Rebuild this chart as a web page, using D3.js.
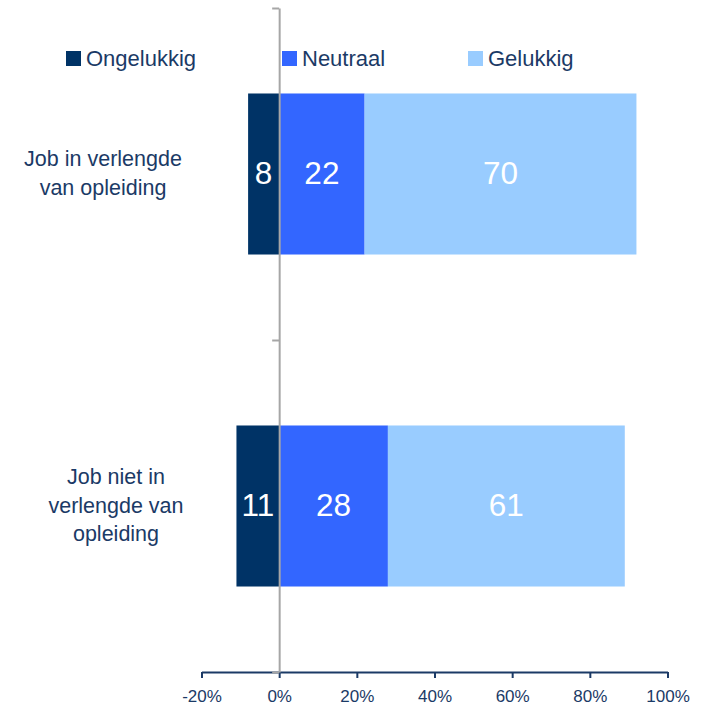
<!DOCTYPE html>
<html>
<head>
<meta charset="utf-8">
<script src="https://cdn.jsdelivr.net/npm/d3@7"></script>
<style>
  body { margin: 0; background: #fff; }
  svg { font-family: "Liberation Sans", Arial, sans-serif; }
</style>
</head>
<body>
<svg width="707" height="710"></svg>
<script>
const categories = [
	['Job in verlengde', 'van opleiding'],
	['Job niet in', 'verlengde van', 'opleiding']
]
const seriesNames = ['Ongelukkig', 'Neutraal', 'Gelukkig']
const ongelukkig = [8, 11]
const neutraal = [22, 28]
const gelukkig = [70, 61]
const xTicks = [-20, 0, 20, 40, 60, 80, 100]

const colors = ['#003366', '#3366ff', '#99ccff']
const textColor = '#1b3a66'

const svg = d3.select('svg')

const x = d3.scaleLinear()
	.domain([-20, 100])
	.range([201.5, 667.5])

const y = d3.scaleBand()
	.domain(d3.range(categories.length))
	.range([8, 672])
	.paddingInner(0.515)
	.paddingOuter(0.2575)

// stacked segments: ongelukkig goes left of zero
const rows = categories.map((c, i) => [
	{ s: 0, x0: -ongelukkig[i], x1: 0, v: ongelukkig[i] },
	{ s: 1, x0: 0, x1: neutraal[i], v: neutraal[i] },
	{ s: 2, x0: neutraal[i], x1: neutraal[i] + gelukkig[i], v: gelukkig[i] },
].map(d => Object.assign(d, { row: i })))

const seg = svg.append('g')
	.selectAll('g')
	.data(rows.flat())
	.enter()
	.append('g')

seg.append('rect')
	.attr('x', d => x(d.x0))
	.attr('width', d => x(d.x1) - x(d.x0))
	.attr('y', d => y(d.row))
	.attr('height', y.bandwidth())
	.attr('fill', d => colors[d.s])

seg.append('text')
	.attr('x', d => x((d.x0 + d.x1) / 2))
	.attr('y', d => y(d.row) + y.bandwidth() / 2 - 1)
	.attr('dy', '0.36em')
	.attr('text-anchor', 'middle')
	.attr('fill', '#fff')
	.attr('font-size', 31.5)
	.text(d => d.v)

// x axis
const xAxis = svg.append('g')
	.attr('transform', 'translate(0,672)')
	.call(d3.axisBottom(x).tickValues(xTicks).tickSize(6).tickSizeOuter(0).tickFormat(d => d + '%'))
xAxis.select('.domain').attr('stroke', textColor).attr('stroke-width', 2)
xAxis.selectAll('.tick line').attr('stroke', textColor).attr('stroke-width', 2)
xAxis.selectAll('.tick text')
	.attr('fill', textColor)
	.attr('font-size', 17)
	.attr('y', 24)
	.attr('dy', '0.35em')

// vertical axis at zero
const yLine = d3.scaleLinear().domain([0, categories.length]).range([8, 672])
const yAxis = svg.append('g')
	.attr('transform', `translate(${x(0)},0)`)
	.call(d3.axisLeft(yLine).ticks(categories.length).tickSize(7).tickSizeOuter(0).tickFormat(''))
yAxis.select('.domain').attr('stroke', '#a6a6a6').attr('stroke-width', 2)
yAxis.selectAll('.tick line').attr('stroke', '#a6a6a6').attr('stroke-width', 2)

// category labels
const labelX = [103, 116]
categories.forEach((lines, i) => {
	const cy = y(i) + y.bandwidth() / 2
	const t = svg.append('text')
		.attr('text-anchor', 'middle')
		.attr('fill', textColor)
		.attr('font-size', 21.5)
	lines.forEach((ln, j) => {
		t.append('tspan')
			.attr('x', labelX[i])
			.attr('y', cy + (j - (lines.length - 1) / 2) * 28.5 - 1)
			.attr('dy', '0.35em')
			.text(ln)
	})
})

// legend
const legendX = [66, 282, 468]
const legend = svg.append('g')
	.selectAll('g')
	.data(seriesNames)
	.enter()
	.append('g')
	.attr('transform', (d, i) => `translate(${legendX[i]},51)`)

legend.append('rect')
	.attr('width', 15)
	.attr('height', 15)
	.attr('fill', (d, i) => colors[i])

legend.append('text')
	.attr('x', 20)
	.attr('y', 7.5)
	.attr('dy', '0.35em')
	.attr('fill', textColor)
	.attr('font-size', 22)
	.text(d => d)
</script>
</body>
</html>
